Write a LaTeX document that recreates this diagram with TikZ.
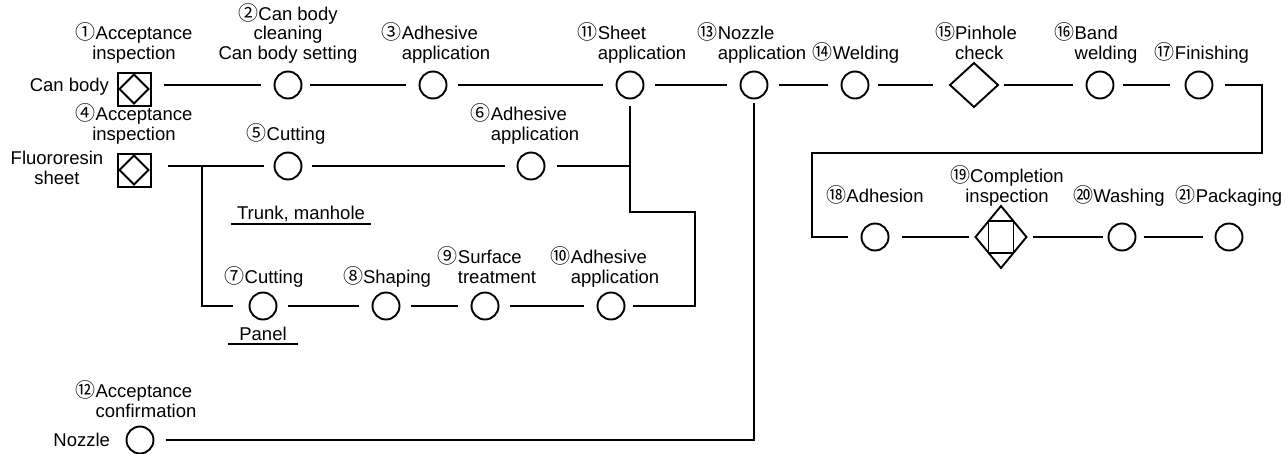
\documentclass[tikz,border=0pt]{standalone}
\usepackage{fontspec}
\setmainfont{Liberation Sans}
\newfontfamily\cjkf{Noto Sans CJK JP}
\usetikzlibrary{shapes.geometric}
\newcommand\cn[1]{{\cjkf\fontsize{20}{19}\selectfont #1}}
\newcommand\hl[2]{\cn{#1}\begin{tabular}[t]{@{}l@{}}#2\end{tabular}}
\newcommand\cl[1]{\begin{tabular}[t]{@{}c@{}}#1\end{tabular}}
\begin{document}
\begin{tikzpicture}[x=1pt,y=-1pt,
  every node/.style={inner sep=0pt, outer sep=0pt},
  txt/.style={font=\fontsize{18.5}{19.5}\selectfont},
  lab/.style={txt, anchor=south},
  proc/.style={circle, draw, line width=1.9pt, minimum size=27pt},
  insp/.style={draw, line width=2pt, minimum size=33pt},
  chk/.style={diamond, draw, line width=1.9pt},
  main/.style={line width=2pt, shorten <=11pt, shorten >=14pt},
  thin/.style={line width=1.2pt},
  uline/.style={line width=1.8pt}]
\useasboundingbox (0,0) rectangle (1287,453);

% ---- row 1 nodes
\node[insp] (s1) at (134,89) {};
\draw[line width=1.8pt] ([yshift=-2pt]s1.north) -- ([xshift=-2pt]s1.east) -- ([yshift=2pt]s1.south) -- ([xshift=2pt]s1.west) -- cycle;
\node[proc] (c2) at (288,85) {};
\node[proc] (c3) at (433,85) {};
\node[proc] (c11) at (630,85) {};
\node[proc] (c13) at (754,85) {};
\node[proc] (c14) at (855,85) {};
\node[chk, minimum width=48pt, minimum height=44pt] (d15) at (974,85) {};
\node[proc] (c16) at (1100,85) {};
\node[proc] (c17) at (1199,85) {};

% ---- row 2 nodes
\node[insp] (s2) at (134,170) {};
\draw[line width=1.8pt] ([yshift=-2pt]s2.north) -- ([xshift=-2pt]s2.east) -- ([yshift=2pt]s2.south) -- ([xshift=2pt]s2.west) -- cycle;
\node[proc] (c5) at (288,166) {};
\node[proc] (c6) at (531,166) {};

% ---- row 4 nodes
\node[proc] (c7) at (263,306) {};
\node[proc] (c8) at (386,306) {};
\node[proc] (c9) at (485,306) {};
\node[proc] (c10) at (611,306) {};

% ---- row 3 nodes
\node[proc] (c18) at (875,237) {};
\node[chk, minimum width=51pt, minimum height=62pt] (d19) at (1001,237) {};
\node[draw, line width=1.9pt, minimum width=25pt, minimum height=32pt] (r19) at (d19) {};
\node[proc] (c20) at (1122,237) {};
\node[proc] (c21) at (1229,237) {};

% ---- nozzle
\node[proc] (cn) at (140,440) {};

% ---- labels
\node[lab] (l1) at (134,65) {\cl{\cn{①}Acceptance\\inspection}};
\node[lab] (l2) at (288,65) {\cl{\cn{②}Can body\\cleaning\\Can body setting}};
\node[lab] (l3) at (436,65) {\hl{③}{Adhesive\\application}};
\node[lab] (l11) at (632,65) {\hl{⑪}{Sheet\\application}};
\node[lab] (l13) at (752,65) {\hl{⑬}{Nozzle\\application}};
\node[lab] (l14) at (856,65) {\hl{⑭}{Welding}};
\node[lab] (l15) at (976,65) {\hl{⑮}{Pinhole\\check}};
\node[lab] (l16) at (1096,65) {\hl{⑯}{Band\\welding}};
\node[lab] (l17) at (1202,65) {\hl{⑰}{Finishing}};
\node[lab] (l4) at (134,146) {\cl{\cn{④}Acceptance\\inspection}};
\node[lab] (l5) at (286,146) {\hl{⑤}{Cutting}};
\node[lab] (l6) at (525,146) {\hl{⑥}{Adhesive\\application}};
\node[lab] (l18) at (875,208) {\hl{⑱}{Adhesion}};
\node[lab] (l19) at (1007,208) {\cl{\cn{⑲}Completion\\inspection}};
\node[lab] (l20) at (1119,208) {\hl{⑳}{Washing}};
\node[lab] (l21) at (1229,208) {\hl{㉑}{Packaging}};
\node[lab] (l7) at (264,289) {\hl{⑦}{Cutting}};
\node[lab] (l8) at (387,289) {\hl{⑧}{Shaping}};
\node[lab] (l9) at (487,289) {\hl{⑨}{Surface\\treatment}};
\node[lab] (l10) at (605,289) {\hl{⑩}{Adhesive\\application}};
\node[lab] (l12) at (136,423) {\hl{⑫}{Acceptance\\confirmation}};

\node[txt, anchor=east] (tcan) at (109,87) {Can body};
\node[txt, align=center] (tflu) at (57,168) {Fluororesin\\sheet};
\node[txt, anchor=east] (tnoz) at (110,440) {Nozzle};
\node[txt, anchor=base, inner xsep=6pt] (ttm) at (301,219) {Trunk, manhole};
\draw[uline] ([yshift=-5pt]ttm.base west) -- ([yshift=-5pt]ttm.base east);
\node[txt, anchor=base, inner xsep=11pt] (tpan) at (263,340) {Panel};
\draw[uline] ([yshift=-4pt]tpan.base west) -- ([yshift=-4pt]tpan.base east);

% ---- connectors row 1
\draw[main, shorten <=13pt] (s1.east |- c2) -- (c2);
\draw[main, shorten <=8pt] (c2) -- (c3);
\draw[main] (c3) -- (c11);
\draw[main] (c11) -- (c13);
\draw[main] (c13) -- (c14);
\draw[main, shorten <=9pt, shorten >=17pt] (c14) -- (d15);
\draw[main, shorten <=6pt] (d15) -- (c16);
\draw[main, shorten <=9pt, shorten >=16pt] (c16) -- (c17);

% ---- row 2
\coordinate (j1) at (202,166);
\coordinate (j2) at (630,166);
\draw[main, shorten <=17pt, shorten >=11pt] (s2.east |- c5) -- (c5);
\draw[main, shorten <=10pt, shorten >=13pt] (c5) -- (c6);
\draw[main, shorten <=12pt, shorten >=0pt] (c6) -- (j2);
\draw[thin, shorten >=17pt] (j1) -- (j1 |- c7) -- (c7);

% ---- row 4
\draw[main] (c7) -- (c8);
\draw[main] (c8) -- (c9);
\draw[main] (c9) -- (c10);
\coordinate (k1) at (630,212);
\coordinate (k2) at (695,212);
\coordinate (k3) at (695,306);
\draw[thin, shorten <=7pt, shorten >=8pt] (c11) -- (k1) -- (k2) -- (k3) -- (c10);

% ---- loop to row 3
\coordinate (m1) at (1262,85);
\coordinate (m2) at (1262,153);
\coordinate (m3) at (812,153);
\coordinate (m4) at (812,237);
\draw[thin, shorten <=12pt, shorten >=14pt] (c17) -- (m1) -- (m2) -- (m3) -- (m4) -- (c18);
\draw[main, shorten <=13pt, shorten >=7pt] (c18) -- (d19);
\draw[main, shorten <=6pt, shorten >=6pt] (d19) -- (c20);
\draw[main, shorten <=8pt, shorten >=13pt] (c20) -- (c21);

% ---- nozzle
\coordinate (n1) at (754,440);
\draw[thin, shorten <=12pt, shorten >=4pt] (cn) -- (n1) -- (c13);
\end{tikzpicture}
\end{document}
